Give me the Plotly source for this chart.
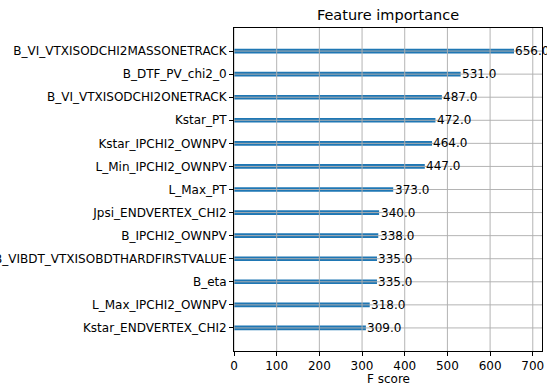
import plotly.graph_objects as go

# Data (top to bottom as shown)
features = [
    "B_VI_VTXISODCHI2MASSONETRACK",
    "B_DTF_PV_chi2_0",
    "B_VI_VTXISODCHI2ONETRACK",
    "Kstar_PT",
    "Kstar_IPCHI2_OWNPV",
    "L_Min_IPCHI2_OWNPV",
    "L_Max_PT",
    "Jpsi_ENDVERTEX_CHI2",
    "B_IPCHI2_OWNPV",
    "B_VIBDT_VTXISOBDTHARDFIRSTVALUE",
    "B_eta",
    "L_Max_IPCHI2_OWNPV",
    "Kstar_ENDVERTEX_CHI2",
]
scores = [656.0, 531.0, 487.0, 472.0, 464.0, 447.0, 373.0, 340.0, 338.0, 335.0, 335.0, 318.0, 309.0]
xticks = [0, 100, 200, 300, 400, 500, 600, 700]

# matplotlib-like ordering: smallest at bottom (index 0)
feat_asc = features[::-1]
score_asc = scores[::-1]
xmax = max(scores) * 1.1

FONT = "DejaVu Sans"
BLUE = "#1f77b4"
GRID = "#b0b0b0"

W, H = 547, 385
ML, MR, MT, MB = 234, 5, 28, 34
plot_h = H - MT - MB

fig = go.Figure()
fig.add_trace(go.Bar(
    x=score_asc, y=feat_asc, orientation="h",
    width=0.2, marker=dict(color=BLUE, line=dict(width=0)),
    hoverinfo="skip",
))

shapes = []
for f in feat_asc:
    shapes.append(dict(type="line", xref="paper", x0=0, x1=1, yref="y", y0=f, y1=f,
                       line=dict(color=GRID, width=0.95), layer="above"))
for t in xticks:
    shapes.append(dict(type="line", xref="x", x0=t, x1=t, yref="paper", y0=0, y1=1,
                       line=dict(color=GRID, width=0.95), layer="above"))

annotations = []
for f, s in zip(feat_asc, score_asc):
    annotations.append(dict(x=s + 1, y=f, xref="x", yref="y", text=f"{s:.1f}",
                            showarrow=False, xanchor="left", yanchor="middle",
                            font=dict(family=FONT, size=12, color="#000000"),
                            borderpad=0))
# x-axis title
annotations.append(dict(x=0.5, y=-(379 - (H - MB)) / plot_h, xref="paper", yref="paper",
                        text="F score", showarrow=False, xanchor="center", yanchor="middle",
                        font=dict(family=FONT, size=12, color="#000000"), borderpad=0))

fig.update_layout(
    width=W, height=H,
    margin=dict(l=ML, r=MR, t=MT, b=MB, autoexpand=False),
    paper_bgcolor="white", plot_bgcolor="white",
    showlegend=False,
    font=dict(family=FONT, size=12, color="#000000"),
    title=dict(text="Feature importance", x=0.5, xref="paper", xanchor="center",
               y=1 - 15 / H, yref="container", yanchor="middle",
               font=dict(family=FONT, size=14.5, color="#000000")),
    shapes=shapes,
    annotations=annotations,
    xaxis=dict(range=[0, xmax], tickvals=xticks, ticktext=[str(t) for t in xticks],
               showgrid=False, zeroline=False,
               showline=True, mirror=True, linecolor="#000000", linewidth=0.95,
               ticks="outside", ticklen=4, tickwidth=0.95, tickcolor="#000000",
               tickfont=dict(family=FONT, size=12, color="#000000"),
               automargin=False),
    yaxis=dict(type="category", categoryorder="array", categoryarray=feat_asc,
               range=[-1, len(feat_asc)],
               showgrid=False, zeroline=False,
               showline=True, mirror=True, linecolor="#000000", linewidth=0.95,
               ticks="outside", ticklen=4, tickwidth=0.95, tickcolor="#000000",
               tickfont=dict(family=FONT, size=12, color="#000000"),
               automargin=False),
)

fig.write_html("out.html")
